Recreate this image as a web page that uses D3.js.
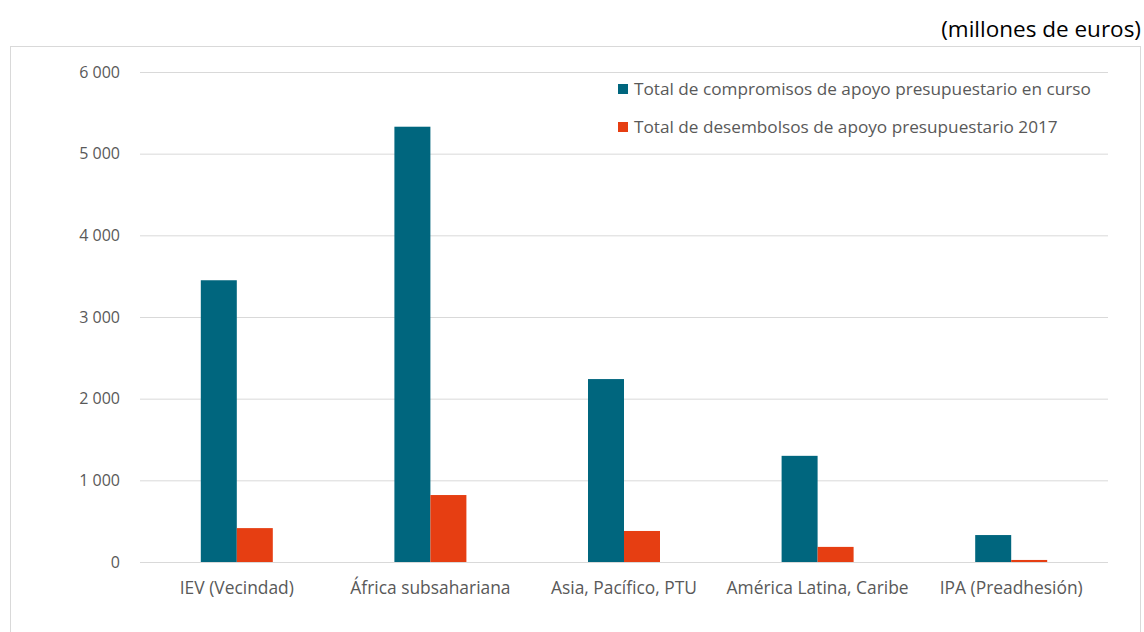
<!DOCTYPE html>
<html>
<head>
  <script src="https://d3js.org/d3.v7.min.js"></script>
  <style>
    body { margin: 0; background: #fff; }
    #chart { width: 1144px; height: 632px; position: relative; }
    text { font-family: "Open Sans", "Noto Sans", sans-serif; }
    .axis text { fill: #595959; }
    .y text { font-size: 16px; }
    .x text { font-size: 17.4px; }
  </style>
</head>
<body>
  <div id="chart"></div>
  <script>
    const width = 1144;
    const height = 632;
    const margin = {top: 72, left: 140, right: 36, bottom: 70};

    // data
    const regions = ["IEV (Vecindad)", "África subsahariana", "Asia, Pacífico, PTU", "América Latina, Caribe", "IPA (Preadhesión)"];
    const seriesNames = ["Total de compromisos de apoyo presupuestario en curso", "Total de desembolsos de apoyo presupuestario 2017"];
    const compromisos = [3450, 5330, 2240, 1300, 330];
    const desembolsos = [415, 820, 380, 185, 25];
    const yTicks = [0, 1000, 2000, 3000, 4000, 5000, 6000];
    const colors = ["#00667e", "#e63e12"];

    const svg = d3.select("#chart").append("svg")
      .attr("width", width)
      .attr("height", height);

    // outer frame
    svg.append("rect")
      .attr("x", 10.5).attr("y", 46.5)
      .attr("width", 1130).attr("height", 600)
      .attr("fill", "none")
      .attr("stroke", "#d9d9d9");

    svg.append("text")
      .attr("x", 1141).attr("y", 37)
      .attr("text-anchor", "end")
      .attr("font-size", "22.5px")
      .attr("fill", "#000")
      .text("(millones de euros)");

    const xScale = d3.scaleBand()
      .domain(regions)
      .range([margin.left, width - margin.right]);

    const xInner = d3.scaleBand()
      .domain([0, 1])
      .range([0, 72]);

    const yScale = d3.scaleLinear()
      .domain([0, 6000])
      .range([height - margin.bottom, margin.top]);

    const fmt = function(d) { return d3.format(",")(d).replace(/,/g, " "); };

    // gridlines + y labels
    const yAxis = svg.append("g")
      .attr("class", "axis y")
      .attr("transform", `translate(${margin.left},0)`)
      .call(d3.axisLeft(yScale).tickValues(yTicks).tickFormat(fmt)
        .tickSize(-(width - margin.left - margin.right)).tickPadding(20));
    yAxis.select(".domain").remove();
    yAxis.selectAll("line").attr("stroke", "#d9d9d9").attr("stroke-width", 1);

    const xAxis = svg.append("g")
      .attr("class", "axis x")
      .attr("transform", `translate(0,${height - margin.bottom})`)
      .call(d3.axisBottom(xScale).tickSize(0).tickPadding(20));
    xAxis.select(".domain").remove();

    const series = [compromisos, desembolsos];
    series.forEach(function(vals, s) {
      svg.append("g").selectAll("rect")
        .data(regions)
        .enter()
        .append("rect")
          .attr("x", function(d) { return xScale(d) + xScale.bandwidth() / 2 - 36 + xInner(s); })
          .attr("y", function(d, i) { return yScale(vals[i]); })
          .attr("width", xInner.bandwidth())
          .attr("height", function(d, i) { return yScale(0) - yScale(vals[i]); })
          .attr("fill", colors[s]);
    });

    // legend
    const legend = svg.append("g").attr("transform", "translate(618,80)");
    seriesNames.forEach(function(name, i) {
      legend.append("rect")
        .attr("x", 0).attr("y", i * 38 + 4)
        .attr("width", 10).attr("height", 10)
        .attr("fill", colors[i]);
      legend.append("text")
        .attr("x", 16).attr("y", i * 38 + 15)
        .attr("font-size", "17.2px")
        .attr("fill", "#595959")
        .text(name);
    });
  </script>
</body>
</html>
